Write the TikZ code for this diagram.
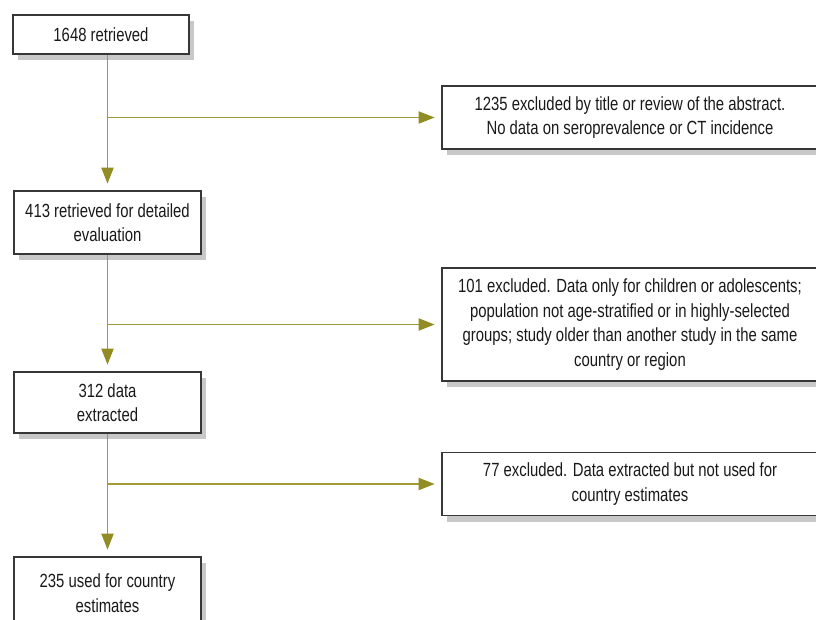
\documentclass[tikz,border=0pt]{standalone}
\usepackage{fontspec}
\setmainfont[FakeStretch=0.78]{Liberation Sans}
\usetikzlibrary{shadows,arrows.meta,positioning}
\definecolor{boxline}{RGB}{55,55,55}
\definecolor{shadowgray}{RGB}{200,200,200}
\definecolor{flowline}{RGB}{160,155,55}
\definecolor{flowhead}{RGB}{145,140,35}

\begin{document}
\begin{tikzpicture}[x=0.75pt,y=-0.75pt,
  every node/.style={font=\fontsize{14.3}{18.4}\selectfont,align=center,inner sep=0pt,text=black!90},
  box/.style={draw=boxline,line width=1pt,fill=white,drop shadow={shadow xshift=3.75pt,shadow yshift=-4.5pt,fill=shadowgray,opacity=1}},
  flow/.style={draw=flowline,line width=1.4pt,-{Triangle[length=12pt,width=9pt,color=flowhead]},shorten >=5pt}]
\useasboundingbox (0,0) rectangle (816,619);
% main column
\node [box,minimum width=132pt,minimum height=29.25pt] (retrieved) at (101,34.5) {1648 retrieved};
\node [box,minimum width=140.25pt,minimum height=47.25pt] (detailed) at (107.5,222.5) {413 retrieved for detailed\\evaluation};
\node [box,minimum width=140.25pt,minimum height=45.75pt] (extracted) at (107.5,402.5) {312 data\\extracted};
\node [box,minimum width=140.25pt,minimum height=54pt] (used) at (107.5,593) {235 used for country\\estimates};
% exclusions
\node [box,minimum width=282pt,minimum height=47.25pt] (excltitle) at (630,117.5) {1235 excluded by title or review of the abstract.\\No data on seroprevalence or CT incidence};
\node [box,minimum width=282pt,minimum height=84.75pt] (exclchild) at (630,324.5) {101 excluded. Data only for children or adolescents;\\population not age-stratified or in highly-selected\\groups; study older than another study in the same\\country or region};
\node [box,minimum width=282pt,minimum height=47.25pt] (exclnotused) at (630,484) {77 excluded. Data extracted but not used for\\country estimates};
% connectors
\draw [flow] (detailed.north |- retrieved.south) -- (detailed.north);
\draw [flow] (detailed.south) -- (extracted.north);
\draw [flow] (extracted.south) -- (used.north);
\draw [flow] (detailed.north |- excltitle.west) -- (excltitle.west);
\draw [flow] (detailed.south |- exclchild.west) -- (exclchild.west);
\draw [flow] (extracted.south |- exclnotused.west) -- (exclnotused.west);
\end{tikzpicture}
\end{document}
